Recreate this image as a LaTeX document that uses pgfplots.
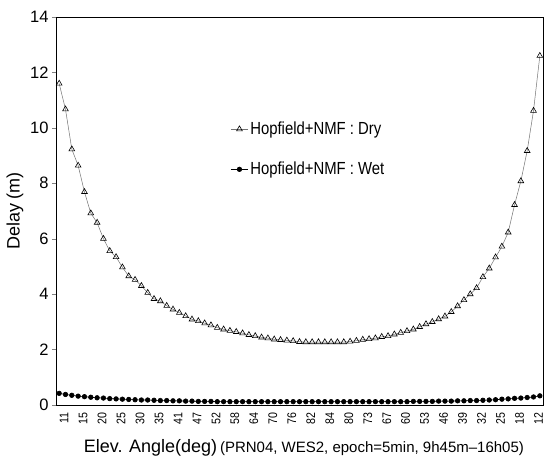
\documentclass[border=0pt]{standalone}
\usepackage{fontspec}
\setmainfont{Liberation Sans}
\newfontfamily\narrow{Liberation Sans}[FakeStretch=0.85]
\usepackage{pgfplots}
\usepackage{pgfplotstable}
\pgfplotsset{compat=1.18}

% epoch index (5 min), dry and wet delay in m
\pgfplotstableread{
idx dry wet
0 11.60 0.42
1 10.67 0.38
2 9.23 0.35
3 8.64 0.32
4 7.69 0.30
5 6.92 0.28
6 6.58 0.26
7 6.00 0.25
8 5.56 0.23
9 5.34 0.22
10 4.97 0.21
11 4.65 0.20
12 4.52 0.19
13 4.30 0.18
14 4.05 0.18
15 3.83 0.17
16 3.75 0.16
17 3.58 0.16
18 3.45 0.15
19 3.33 0.15
20 3.21 0.14
21 3.09 0.14
22 3.03 0.13
23 2.95 0.13
24 2.88 0.13
25 2.79 0.12
26 2.73 0.12
27 2.68 0.12
28 2.64 0.12
29 2.59 0.12
30 2.53 0.12
31 2.49 0.12
32 2.44 0.12
33 2.41 0.12
34 2.37 0.12
35 2.35 0.12
36 2.33 0.12
37 2.31 0.12
38 2.28 0.12
39 2.27 0.12
40 2.27 0.12
41 2.27 0.12
42 2.27 0.12
43 2.27 0.12
44 2.27 0.12
45 2.27 0.12
46 2.29 0.12
47 2.32 0.12
48 2.36 0.12
49 2.38 0.12
50 2.41 0.12
51 2.46 0.12
52 2.49 0.12
53 2.55 0.12
54 2.61 0.12
55 2.67 0.12
56 2.73 0.13
57 2.82 0.13
58 2.92 0.13
59 3.00 0.13
60 3.10 0.14
61 3.20 0.14
62 3.36 0.14
63 3.57 0.15
64 3.79 0.15
65 4.00 0.16
66 4.22 0.16
67 4.62 0.17
68 4.93 0.18
69 5.33 0.19
70 5.72 0.21
71 6.23 0.22
72 7.22 0.24
73 8.08 0.25
74 9.17 0.27
75 10.62 0.29
76 12.60 0.33
}\delay

\begin{document}
\begin{tikzpicture}
\path (-56pt,-65pt) rectangle (491pt,405pt);
\begin{axis}[
    scale only axis,
    width=487pt, height=388pt,
    at={(0,0)}, anchor=south west,
    xmin=-0.5, xmax=76.5,
    ymin=0, ymax=14,
    ytick={0,2,...,14},
    xtick={0,3,...,75},
    xticklabels={11,15,20,25,30,35,41,47,52,58,64,70,76,82,84,80,73,67,60,53,46,39,32,25,18,12},
    x tick label style={rotate=90, anchor=east, yshift=-5pt, font=\narrow\fontsize{12.5}{14}\selectfont},
    y tick label style={font=\fontsize{16.5}{18}\selectfont},
    /pgf/number format/assume math mode=true,
    xtick style={draw=none},
    ytick pos=left,
    tick align=outside,
    major tick length=4pt,
    axis line style={line width=0.8pt},
    ylabel={Delay (m)},
    every axis y label/.style={at={(axis description cs:-0.0842,0.5)}, rotate=90, anchor=center,
        font=\fontsize{18}{20}\selectfont},
    xlabel={{\fontsize{18}{20}\selectfont Elev. Angle(deg)} {\fontsize{15}{17}\selectfont (PRN04, WES2, epoch=5min, 9h45m–16h05)}},
    every axis x label/.style={at={(axis description cs:0.509,-0.111)}, anchor=center},
    legend style={draw=none, fill=none, at={(axis description cs:0.352,0.74)}, anchor=north west,
        font=\narrow\fontsize{17.5}{19}\selectfont, row sep=22pt},
    legend cell align=left,
]
\addplot[black!55, line width=0.5pt, mark=triangle, mark size=3.3pt,
    mark options={solid, fill=white, draw=black, line width=0.6pt}]
    table[x=idx, y=dry] {\delay};
\addlegendentry{Hopfield+NMF : Dry}
\addplot[black, line width=0.6pt, mark=*, mark size=2.3pt]
    table[x=idx, y=wet] {\delay};
\addlegendentry{Hopfield+NMF : Wet}
\end{axis}
\end{tikzpicture}
\end{document}
